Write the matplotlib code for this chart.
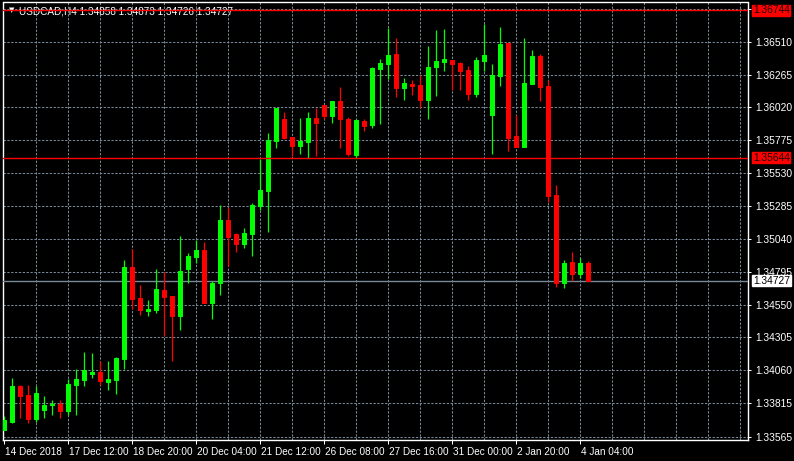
import matplotlib
matplotlib.use("Agg")
import matplotlib.pyplot as plt
import matplotlib.transforms as mtransforms
import numpy as np

# USDCAD H4 candles (oldest first)
opens = [1.33615, 1.33675, 1.33943, 1.33876, 1.33697, 1.33764, 1.33801, 1.33809, 1.33757, 1.33950,
         1.33988, 1.34032, 1.34047, 1.33973, 1.33988, 1.34144, 1.34830, 1.34599, 1.34502, 1.34510,
         1.34659, 1.34614, 1.34465, 1.34815, 1.34905, 1.34957, 1.34562, 1.34711, 1.35181, 1.35076,
         1.35002, 1.35076, 1.35285, 1.35397, 1.35770, 1.35934, 1.35799, 1.35732, 1.35762, 1.35941,
         1.36038, 1.35956, 1.36068, 1.35934, 1.35665, 1.35919, 1.35889, 1.36306, 1.36344, 1.36418,
         1.36165, 1.36195, 1.36187, 1.36075, 1.36321, 1.36359, 1.36374, 1.36351, 1.36299, 1.36120,
         1.36366, 1.35963, 1.36254, 1.36500, 1.35807, 1.35725, 1.36195, 1.36403, 1.36180, 1.35367,
         1.34711, 1.34867, 1.34778, 1.34858]
highs = [1.33719, 1.34003, 1.33950, 1.33950, 1.33943, 1.33868, 1.33839, 1.33839, 1.33995, 1.34070,
         1.34196, 1.34189, 1.34129, 1.34129, 1.34159, 1.34882, 1.34964, 1.34696, 1.34584, 1.34815,
         1.34793, 1.34614, 1.35061, 1.34935, 1.35032, 1.35017, 1.34726, 1.35292, 1.35278, 1.35084,
         1.35121, 1.35307, 1.35635, 1.35829, 1.36016, 1.35986, 1.35799, 1.35941, 1.35986, 1.36016,
         1.36038, 1.36068, 1.36172, 1.35949, 1.35934, 1.35934, 1.36321, 1.36381, 1.36612, 1.36538,
         1.36239, 1.36224, 1.36262, 1.36478, 1.36597, 1.36605, 1.36374, 1.36359, 1.36329, 1.36396,
         1.36642, 1.36344, 1.36620, 1.36500, 1.35963, 1.36538, 1.36448, 1.36418, 1.36224, 1.35441,
         1.34882, 1.34942, 1.34897, 1.34873]
lows = [1.33612, 1.33667, 1.33704, 1.33667, 1.33675, 1.33704, 1.33727, 1.33704, 1.33727, 1.33727,
        1.33943, 1.34003, 1.33950, 1.33913, 1.33883, 1.34070, 1.34517, 1.34472, 1.34465, 1.34487,
        1.34316, 1.34129, 1.34361, 1.34711, 1.34860, 1.34562, 1.34443, 1.34621, 1.34838, 1.34942,
        1.34972, 1.34912, 1.35255, 1.35091, 1.35717, 1.35785, 1.35658, 1.35673, 1.35643, 1.35658,
        1.35934, 1.35904, 1.35717, 1.35658, 1.35643, 1.35844, 1.35867, 1.35896, 1.36232, 1.36098,
        1.36075, 1.36113, 1.36016, 1.35934, 1.36105, 1.36292, 1.36150, 1.36150, 1.36075, 1.36098,
        1.36292, 1.35673, 1.36180, 1.35695, 1.35725, 1.35725, 1.36195, 1.36068, 1.35315, 1.34681,
        1.34674, 1.34726, 1.34748, 1.34726]
closes = [1.33690, 1.33943, 1.33868, 1.33697, 1.33891, 1.33804, 1.33809, 1.33757, 1.33958, 1.33995,
          1.34062, 1.34047, 1.33980, 1.33995, 1.34152, 1.34830, 1.34592, 1.34510, 1.34517, 1.34666,
          1.34607, 1.34465, 1.34800, 1.34912, 1.34957, 1.34562, 1.34711, 1.35181, 1.35054, 1.35002,
          1.35084, 1.35292, 1.35404, 1.35777, 1.36016, 1.35792, 1.35732, 1.35770, 1.35941, 1.35904,
          1.35956, 1.36068, 1.35934, 1.35673, 1.35926, 1.35881, 1.36314, 1.36351, 1.36411, 1.36165,
          1.36202, 1.36180, 1.36075, 1.36321, 1.36366, 1.36381, 1.36344, 1.36292, 1.36120, 1.36374,
          1.36411, 1.36262, 1.36493, 1.35792, 1.35725, 1.36202, 1.36403, 1.36172, 1.35360, 1.34711,
          1.34860, 1.34778, 1.34860, 1.34727]

date_labels = ["14 Dec 2018", "17 Dec 12:00", "18 Dec 20:00", "20 Dec 04:00", "21 Dec 12:00",
               "26 Dec 08:00", "27 Dec 16:00", "31 Dec 00:00", "2 Jan 20:00", "4 Jan 04:00"]
date_label_bars = [0, 8, 16, 24, 32, 40, 48, 56, 64, 72]

price_labels = ["", "1.36510", "1.36265", "1.36020", "1.35775", "1.35530", "1.35285", "1.35040",
                "1.34795", "1.34550", "1.34305", "1.34060", "1.33815", "1.33565"]
price_ticks = [1.36755, 1.36510, 1.36265, 1.36020, 1.35775, 1.35530, 1.35285, 1.35040,
               1.34795, 1.34550, 1.34305, 1.34060, 1.33815, 1.33565]

high_line = 1.36744
low_line = 1.35644
bid = 1.34727

BULL = "#00FF00"
BEAR = "#FF0000"
GRID = "#778899"
FONT = "Liberation Sans"
FS = 7.2

fig = plt.figure(figsize=(7.94, 4.61), dpi=100, facecolor="black")
ax = fig.add_axes([2.5 / 794, 21 / 461, 745.5 / 794, 437.5 / 461], facecolor="black")

o = np.array(opens)
h = np.array(highs)
l = np.array(lows)
c = np.array(closes)
x = np.arange(len(o))
colors = [BULL if cc >= oo else BEAR for oo, cc in zip(o, c)]

ax.vlines(x, l, h, colors=colors, linewidth=0.9, zorder=4)
ax.bar(x, np.abs(c - o), bottom=np.minimum(o, c), width=0.5, color=colors,
       edgecolor=colors, linewidth=0.72, zorder=5)

ax.set_xlim(-0.125, 93.06)
ax.set_ylim(1.335404, 1.36802)

# grid
ax.set_yticks(price_ticks)
ax.set_yticklabels(price_labels)
ax.set_xticks(date_label_bars)
ax.set_xticklabels(date_labels)
ax.set_xticks(np.arange(4, 93, 4), minor=True)
ax.xaxis.remove_overlapping_locs = False
ax.set_axisbelow(True)
ax.grid(True, which="major", axis="y", color=GRID, linewidth=0.75, linestyle=(0, (2.2, 1.5)))
ax.grid(True, which="minor", axis="x", color=GRID, linewidth=0.75, linestyle=(0, (2.2, 1.5)))

ax.yaxis.tick_right()
ax.tick_params(axis="y", colors="white", length=2, width=0.72, pad=3, labelsize=FS + 0.2)
ax.tick_params(axis="x", which="major", colors="white", length=3, width=0.72, pad=2, labelsize=FS)
ax.tick_params(axis="x", which="minor", length=0)
offset = mtransforms.ScaledTranslation(1 / 72, 0, fig.dpi_scale_trans)
for lab in ax.get_xticklabels():
    lab.set_horizontalalignment("left")
    lab.set_fontfamily(FONT)
    lab.set_transform(lab.get_transform() + offset)
for lab in ax.get_yticklabels():
    lab.set_fontfamily(FONT)
for sp in ax.spines.values():
    sp.set_color("white")
    sp.set_linewidth(1.0)

# level lines
ax.axhline(high_line, color="#FF0000", linewidth=1.0, zorder=6)
ax.axhline(low_line, color="#FF0000", linewidth=1.0, zorder=6)
ax.axhline(bid, color=GRID, linewidth=1.0, zorder=3)

tr = mtransforms.blended_transform_factory(ax.transAxes, ax.transData)
for val, fc, tc in [(high_line, "#FF0000", "#200000"), (low_line, "#FF0000", "#200000"), (bid, "white", "black")]:
    ax.text(1.0 + 5 / 745.5, val, f"{val:.5f}", transform=tr, ha="left", va="center",
            fontsize=FS + 0.2, family=FONT, color=tc, clip_on=False, zorder=10,
            bbox=dict(boxstyle="square,pad=0.05", fc=fc, ec=fc))

# header
ax.text(9 / 745.5, 1 - 8 / 437.5, "\u25BC", transform=ax.transAxes, ha="center", va="center",
        fontsize=5, color="white", family="DejaVu Sans", zorder=2)
ax.text(16 / 745.5, 1 - 8.5 / 437.5, "USDCAD,H4 1.34858 1.34873 1.34726 1.34727",
        transform=ax.transAxes, ha="left", va="center", fontsize=FS, color="white",
        family=FONT, zorder=2)

fig.savefig("out.png", dpi=100, facecolor="black")
